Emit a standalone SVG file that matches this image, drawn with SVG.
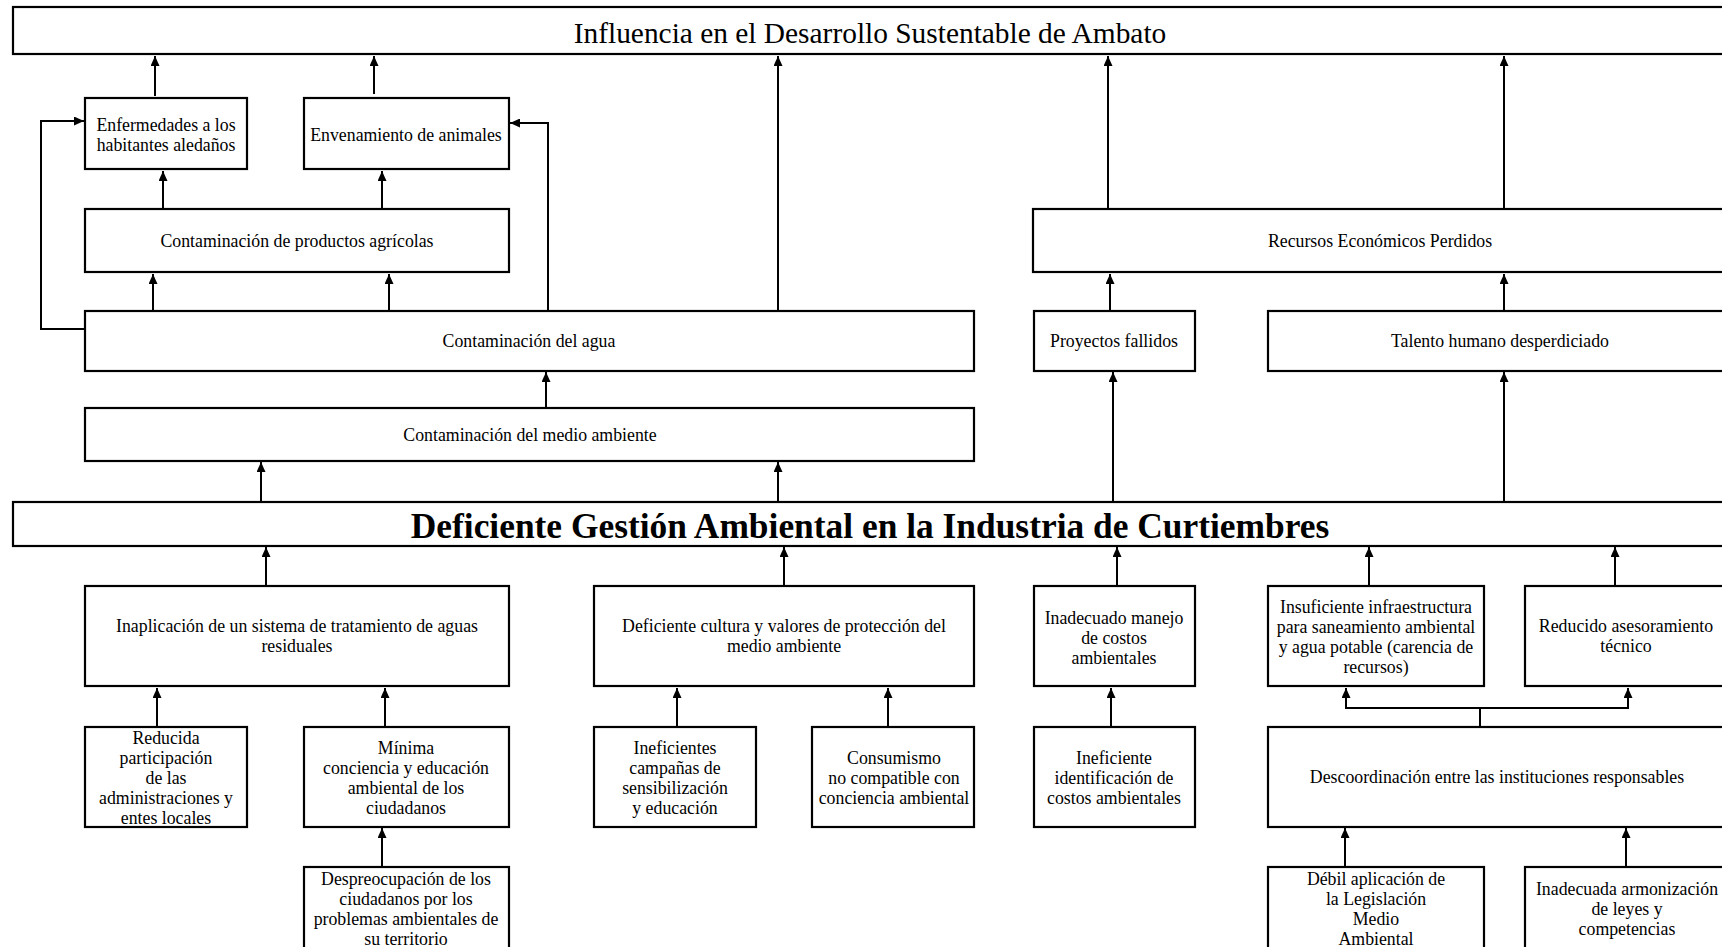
<svg xmlns="http://www.w3.org/2000/svg" width="1722" height="947" viewBox="0 0 1722 947">
  <style>
    .box { fill: #ffffff; stroke: #000000; stroke-width: 2.2; }
    .t { font-family: "Liberation Serif", "Times New Roman", serif; font-size: 17.8px; text-anchor: middle; fill: #000000; }
    .head { font-family: "Liberation Serif", "Times New Roman", serif; font-size: 29.4px; text-anchor: middle; fill: #000000; }
    .core { font-family: "Liberation Serif", "Times New Roman", serif; font-size: 35.4px; font-weight: bold; text-anchor: middle; fill: #000000; }
    .c { fill: none; stroke: #000000; stroke-width: 2; marker-end: url(#ah); }
    .l { fill: none; stroke: #000000; stroke-width: 2; }
  </style>
  <defs>
    <marker id="ah" viewBox="0 0 10 9" refX="10" refY="4.5" markerWidth="10" markerHeight="9" markerUnits="userSpaceOnUse" orient="auto">
      <path d="M0,0 L10,4.5 L0,9 z" fill="#000000"/>
    </marker>
  </defs>
  <rect width="1722" height="947" fill="#ffffff"/>

  <!-- connectors -->
  <g id="connectors">
    <!-- effects up to the top goal -->
    <path class="c" d="M155,96 V56"/>
    <path class="c" d="M374,94 V56"/>
    <path class="c" d="M778,310 V56"/>
    <path class="c" d="M1108,208 V56"/>
    <path class="c" d="M1504,208 V56"/>
    <!-- agricultural products branch -->
    <path class="c" d="M163,208 V171"/>
    <path class="c" d="M382,208 V171"/>
    <path class="c" d="M153,310 V274"/>
    <path class="c" d="M389,310 V274"/>
    <!-- side loops from water contamination -->
    <path class="c" d="M85,329 H41 V121 H84"/>
    <path class="c" d="M548,310 V123 H510"/>
    <path class="c" d="M546,407 V372"/>
    <!-- central problem to effects -->
    <path class="c" d="M261,501 V462"/>
    <path class="c" d="M778,501 V462"/>
    <path class="c" d="M1113,501 V372"/>
    <path class="c" d="M1504,501 V372"/>
    <path class="c" d="M1110,310 V274"/>
    <path class="c" d="M1504,310 V274"/>
    <!-- causes up to the central problem -->
    <path class="c" d="M266,585 V547"/>
    <path class="c" d="M784,585 V547"/>
    <path class="c" d="M1117,585 V547"/>
    <path class="c" d="M1369,585 V547"/>
    <path class="c" d="M1615,585 V547"/>
    <!-- secondary causes -->
    <path class="c" d="M157,726 V688"/>
    <path class="c" d="M385,726 V688"/>
    <path class="c" d="M677,726 V688"/>
    <path class="c" d="M888,726 V688"/>
    <path class="c" d="M1111,726 V688"/>
    <path class="c" d="M382,866 V828"/>
    <path class="c" d="M1345,866 V828"/>
    <path class="c" d="M1626,866 V828"/>
    <!-- split from Descoordinación -->
    <path class="l" d="M1480,726 V708"/>
    <path class="c" d="M1480,708 H1346 V688"/>
    <path class="c" d="M1480,708 H1628 V688"/>
  </g>

  <!-- top goal -->
  <g id="goal">
    <rect class="box" x="13" y="7" width="1720" height="47"/>
    <text class="head" x="870" y="43">Influencia en el Desarrollo Sustentable de Ambato</text>
  </g>

  <!-- effects -->
  <g id="enfermedades">
    <rect class="box" x="85" y="98" width="162" height="71"/>
    <text class="t" x="166" y="131">Enfermedades a los</text>
    <text class="t" x="166" y="151">habitantes aledaños</text>
  </g>
  <g id="envenenamiento">
    <rect class="box" x="304" y="98" width="205" height="71"/>
    <text class="t" x="406" y="141">Envenamiento de animales</text>
  </g>
  <g id="productos">
    <rect class="box" x="85" y="209" width="424" height="63"/>
    <text class="t" x="297" y="247">Contaminación de productos agrícolas</text>
  </g>
  <g id="agua">
    <rect class="box" x="85" y="311" width="889" height="60"/>
    <text class="t" x="529" y="347">Contaminación del agua</text>
  </g>
  <g id="medio">
    <rect class="box" x="85" y="408" width="889" height="53"/>
    <text class="t" x="530" y="441">Contaminación del medio ambiente</text>
  </g>
  <g id="recursos">
    <rect class="box" x="1033" y="209" width="700" height="63"/>
    <text class="t" x="1380" y="247">Recursos Económicos Perdidos</text>
  </g>
  <g id="proyectos">
    <rect class="box" x="1034" y="311" width="161" height="60"/>
    <text class="t" x="1114" y="347">Proyectos fallidos</text>
  </g>
  <g id="talento">
    <rect class="box" x="1268" y="311" width="465" height="60"/>
    <text class="t" x="1500" y="347">Talento humano desperdiciado</text>
  </g>

  <!-- central problem -->
  <g id="problema">
    <rect class="box" x="13" y="502" width="1720" height="44"/>
    <text class="core" x="870" y="538">Deficiente Gestión Ambiental en la Industria de Curtiembres</text>
  </g>

  <!-- causes -->
  <g id="inaplicacion">
    <rect class="box" x="85" y="586" width="424" height="100"/>
    <text class="t" x="297" y="632">Inaplicación de un sistema de tratamiento de aguas</text>
    <text class="t" x="297" y="652">residuales</text>
  </g>
  <g id="cultura">
    <rect class="box" x="594" y="586" width="380" height="100"/>
    <text class="t" x="784" y="632">Deficiente cultura y valores de protección del</text>
    <text class="t" x="784" y="652">medio ambiente</text>
  </g>
  <g id="costos">
    <rect class="box" x="1034" y="586" width="161" height="100"/>
    <text class="t" x="1114" y="624">Inadecuado manejo</text>
    <text class="t" x="1114" y="644">de costos</text>
    <text class="t" x="1114" y="664">ambientales</text>
  </g>
  <g id="infraestructura">
    <rect class="box" x="1268" y="586" width="216" height="100"/>
    <text class="t" x="1376" y="613">Insuficiente infraestructura</text>
    <text class="t" x="1376" y="633">para saneamiento ambiental</text>
    <text class="t" x="1376" y="653">y agua potable (carencia de</text>
    <text class="t" x="1376" y="673">recursos)</text>
  </g>
  <g id="asesoramiento">
    <rect class="box" x="1525" y="586" width="208" height="100"/>
    <text class="t" x="1626" y="632">Reducido asesoramiento</text>
    <text class="t" x="1626" y="652">técnico</text>
  </g>

  <!-- secondary causes -->
  <g id="participacion">
    <rect class="box" x="85" y="727" width="162" height="100"/>
    <text class="t" x="166" y="744">Reducida</text>
    <text class="t" x="166" y="764">participación</text>
    <text class="t" x="166" y="784">de las</text>
    <text class="t" x="166" y="804">administraciones y</text>
    <text class="t" x="166" y="824">entes locales</text>
  </g>
  <g id="conciencia">
    <rect class="box" x="304" y="727" width="205" height="100"/>
    <text class="t" x="406" y="754">Mínima</text>
    <text class="t" x="406" y="774">conciencia y educación</text>
    <text class="t" x="406" y="794">ambiental de los</text>
    <text class="t" x="406" y="814">ciudadanos</text>
  </g>
  <g id="campanas">
    <rect class="box" x="594" y="727" width="162" height="100"/>
    <text class="t" x="675" y="754">Ineficientes</text>
    <text class="t" x="675" y="774">campañas de</text>
    <text class="t" x="675" y="794">sensibilización</text>
    <text class="t" x="675" y="814">y educación</text>
  </g>
  <g id="consumismo">
    <rect class="box" x="812" y="727" width="162" height="100"/>
    <text class="t" x="894" y="764">Consumismo</text>
    <text class="t" x="894" y="784">no compatible con</text>
    <text class="t" x="894" y="804">conciencia ambiental</text>
  </g>
  <g id="identificacion">
    <rect class="box" x="1034" y="727" width="161" height="100"/>
    <text class="t" x="1114" y="764">Ineficiente</text>
    <text class="t" x="1114" y="784">identificación de</text>
    <text class="t" x="1114" y="804">costos ambientales</text>
  </g>
  <g id="descoordinacion">
    <rect class="box" x="1268" y="727" width="465" height="100"/>
    <text class="t" x="1497" y="783">Descoordinación entre las instituciones responsables</text>
  </g>
  <g id="despreocupacion">
    <rect class="box" x="304" y="867" width="205" height="100"/>
    <text class="t" x="406" y="885">Despreocupación de los</text>
    <text class="t" x="406" y="905">ciudadanos por los</text>
    <text class="t" x="406" y="925">problemas ambientales de</text>
    <text class="t" x="406" y="945">su territorio</text>
  </g>
  <g id="legislacion">
    <rect class="box" x="1268" y="867" width="216" height="100"/>
    <text class="t" x="1376" y="885">Débil aplicación de</text>
    <text class="t" x="1376" y="905">la Legislación</text>
    <text class="t" x="1376" y="925">Medio</text>
    <text class="t" x="1376" y="945">Ambiental</text>
  </g>
  <g id="armonizacion">
    <rect class="box" x="1525" y="867" width="208" height="100"/>
    <text class="t" x="1627" y="895">Inadecuada armonización</text>
    <text class="t" x="1627" y="915">de leyes y</text>
    <text class="t" x="1627" y="935">competencias</text>
  </g>
</svg>
